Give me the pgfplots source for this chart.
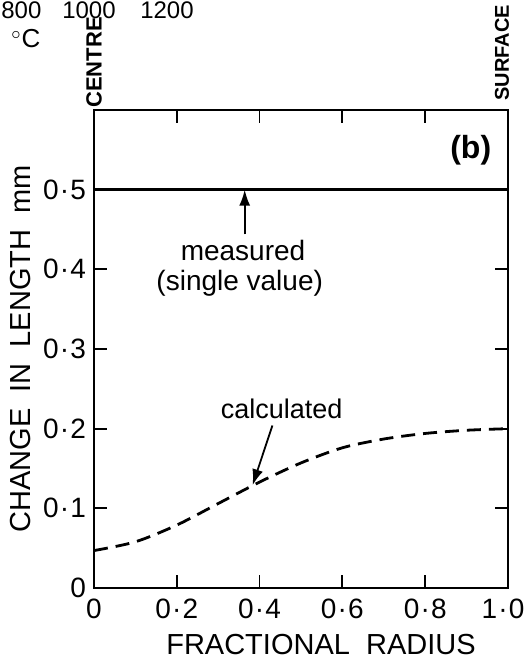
\documentclass[border=0pt]{standalone}
\usepackage{fontspec}
\setmainfont{Liberation Sans}
\usepackage{pgfplots}
\pgfplotsset{compat=1.18}
\usetikzlibrary{arrows.meta,calc}
\newcommand{\dt}{\kern0.6pt·\kern0.6pt}
\begin{document}
\begin{tikzpicture}
\begin{axis}[
  scale only axis, width=207pt, height=239pt,
  xmin=0, xmax=1, ymin=0, ymax=0.6,
  axis line style={line width=1pt},
  tick style={line width=0.9pt, black},
  tick align=inside, major tick length=6.5pt,
  xtick pos=both, ytick pos=both,
  xticklabel pos=lower, yticklabel pos=left,
  xtick={0,0.2,0.4,0.6,0.8,1},
  xticklabels={0,0\dt2,0\dt4,0\dt6,0\dt8,1\dt0\kern5pt},
  ytick={0,0.1,0.2,0.3,0.4,0.5},
  yticklabels={0,0\dt1,0\dt2,0\dt3,0\dt4,0\dt5},
  ticklabel style={font=\fontsize{14}{16}\selectfont},
  yticklabel style={xshift=-0.5pt},
  xticklabel style={yshift=-2pt},
  xlabel={FRACTIONAL\ \ RADIUS},
  ylabel={CHANGE\ \ IN\ \ LENGTH\ \ mm},
  label style={font=\fontsize{14.5}{16}\selectfont},
  x label style={yshift=-1pt, xshift=10pt},
  y label style={yshift=-0.5pt},
  clip=false,
]
\coordinate (O) at (rel axis cs:0,0);
% measured (single value)
\addplot[black, line width=1.3pt] coordinates {(0,0.5) (1,0.5)};
% calculated
\addplot[black, line width=1.4pt, dash pattern=on 7pt off 4pt, smooth] coordinates {
(0,0.047) (0.1,0.058) (0.2,0.079) (0.3,0.106) (0.4,0.133) (0.5,0.157)
(0.6,0.176) (0.7,0.187) (0.8,0.194) (0.9,0.198) (1.0,0.200)};
\node[font=\fontsize{14}{16}\selectfont] at (axis cs:0.36,0.4235) {measured};
\node[font=\fontsize{14}{16}\selectfont] at (axis cs:0.352,0.383) {(single value)};
\draw[line width=0.9pt, -{Latex[length=8pt,width=5.5pt]}] (axis cs:0.364,0.444) -- (axis cs:0.364,0.5);
\node[font=\fontsize{13.5}{16}\selectfont] at (axis cs:0.453,0.225) {calculated};
\draw[line width=0.9pt, -{Latex[length=8pt,width=5.5pt]}] (axis cs:0.431,0.204) -- (axis cs:0.383,0.129);
\node[font=\fontsize{16}{18}\selectfont\bfseries] at (axis cs:0.91,0.55) {(b)};
\node[rotate=90, anchor=west, inner sep=0pt, font=\fontsize{11}{12}\selectfont\bfseries] at ($(rel axis cs:0,1)+(0,1pt)$) {CENTRE};
\node[rotate=90, anchor=west, inner sep=0pt, font=\fontsize{10}{12}\selectfont\bfseries] at ($(rel axis cs:1,1)+(-3pt,4.5pt)$) {SURFACE};
\end{axis}
\coordinate (BL) at ($(O)+(-47pt,-38.5pt)$);
\node[anchor=north west, inner sep=0.5pt, font=\fontsize{12}{14}\selectfont] at ($(BL)+(0pt,332.5pt)$) {800};
\node[anchor=north, inner sep=0.5pt, font=\fontsize{12}{14}\selectfont] at ($(BL)+(44.5pt,332.5pt)$) {1000};
\node[anchor=north, inner sep=0.5pt, font=\fontsize{12}{14}\selectfont] at ($(BL)+(83.5pt,332.5pt)$) {1200};
\node[font=\fontsize{13}{15}\selectfont] at ($(BL)+(13pt,313pt)$) {$^{\circ}$C};
\pgfresetboundingbox
\useasboundingbox (BL) rectangle ++(264pt,332.5pt);
\end{tikzpicture}
\end{document}
